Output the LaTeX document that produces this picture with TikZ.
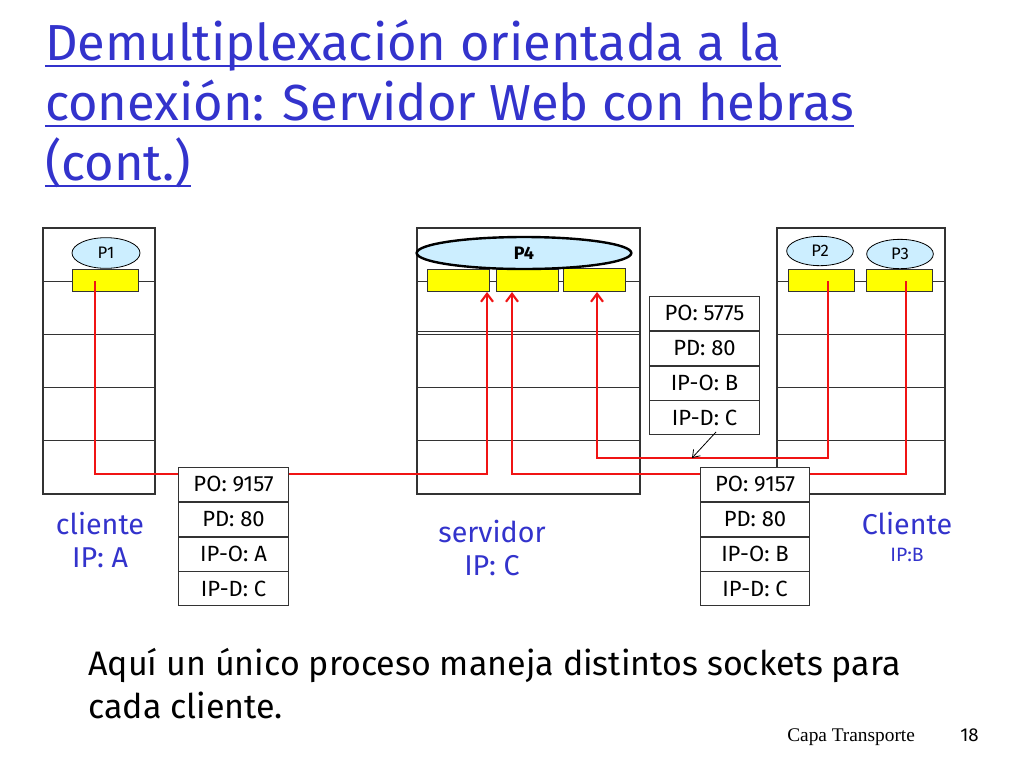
\documentclass[tikz,border=0pt]{standalone}
\usepackage{fontspec}
\setmainfont{Fira Sans}
\newfontfamily\serifx{Liberation Serif}
\usetikzlibrary{arrows.meta,calc,shapes.geometric}
\definecolor{tblue}{RGB}{51,51,204}
\definecolor{sock}{RGB}{255,255,0}
\definecolor{proc}{RGB}{204,238,255}
\tikzset{
 host/.style={draw=black!80,line width=0.8pt},
 socket/.style={draw=black!80,fill=sock,line width=0.6pt},
 procx/.style={draw=black,fill=proc,ellipse,line width=0.6pt,font=\fontsize{12.5}{12.5}\selectfont,inner sep=0pt},
 pktrow/.style={draw=black!80,fill=white,minimum width=82pt,minimum height=25.5pt,line width=0.6pt,font=\fontsize{16.5}{16.5}\selectfont,inner sep=0pt},
 red/.style={draw={rgb,255:red,240;green,20;blue,20},line width=1.6pt},
 lab/.style={text=tblue,font=\fontsize{21.5}{25}\selectfont,align=center},
}
\begin{document}
\begin{tikzpicture}[x=0.75pt,y=-0.75pt]
\useasboundingbox (0,0) rectangle (1024,768);
% title
\foreach \t [count=\i] in {Demultiplexación orientada a la,conexión: Servidor Web con hebras,(cont.)}{
 \node[anchor=base west,text=tblue,font=\fontsize{38}{38}\selectfont,inner sep=0pt,outer sep=0pt] (title\i) at (45,{60*\i}) {\t};
 \draw[tblue,line width=1.5pt] ($(title\i.base west)+(0,6)$) -- ($(title\i.base east)+(0,6)$);
}
% hosts
\foreach \n/\xa/\xb in {A/43/155,S/417/640,B/777/945}{
 \draw[host] (\xa,228) rectangle (\xb,494);
 \foreach \yy in {281,334,387,440} \draw[host,line width=0.6pt] (\xa,\yy) -- (\xb,\yy);
}
\draw[host,line width=0.6pt] (417,331) -- (640,331);
% sockets
\node[socket,minimum width=50pt,minimum height=16.5pt,inner sep=0pt] (sA) at (105.5,280) {};
\node[socket,minimum width=47pt,minimum height=17pt,inner sep=0pt] (s1) at (458.5,280.5) {};
\node[socket,minimum width=47pt,minimum height=17pt,inner sep=0pt] (s2) at (527.5,280.5) {};
\node[socket,minimum width=47pt,minimum height=17pt,inner sep=0pt] (s3) at (594.5,280) {};
\node[socket,minimum width=49.5pt,minimum height=16.5pt,inner sep=0pt] (sB1) at (821,280) {};
\node[socket,minimum width=49.5pt,minimum height=16.5pt,inner sep=0pt] (sB2) at (899,280) {};
% processes
\node[procx,minimum width=51pt,minimum height=23pt] (P1) at (106,253) {P1};
\node[procx,minimum width=161pt,minimum height=24pt,line width=1.8pt,font=\fontsize{13.5}{13.5}\selectfont\bfseries] (P4) at (524,253) {P4};
\node[procx,minimum width=50pt,minimum height=22pt] (P2) at (820,251) {P2};
\node[procx,minimum width=50pt,minimum height=22pt] (P3) at (900,254) {P3};
% red paths
\coordinate (a0) at (95,281);
\draw[red,-{Straight Barb[length=6pt,width=9pt]}] (a0) |- (487,474) -- (487,292);
\coordinate (b0) at (906,281);
\draw[red,-{Straight Barb[length=6pt,width=9pt]}] (b0) |- (512,474) -- (512,292);
\coordinate (c0) at (828,281);
\draw[red,-{Straight Barb[length=6pt,width=9pt]}] (c0) |- (597,458) -- (597,292);
% packets
\foreach \nm/\cx/\yt/\o/\io in {pA/233.5/467/9157/A,pB/755/467/9157/B,pM/704.5/296/5775/B}{
 \node[pktrow,anchor=north] (\nm1) at (\cx,\yt) {PO: \o};
 \node[pktrow,anchor=north] (\nm2) at (\nm1.south) {PD: 80};
 \node[pktrow,anchor=north] (\nm3) at (\nm2.south) {IP-O: \io};
 \node[pktrow,anchor=north] (\nm4) at (\nm3.south) {IP-D: C};
}
\coordinate (mt) at (692,458);
\draw[-{Straight Barb[length=5pt,width=7pt]},line width=0.6pt] (716,432) -- (mt);
% labels
\node[lab] (lA) at (100,540) {cliente\\IP: A};
\node[lab] (lS) at (492,548) {servidor\\IP: C};
\node[lab] (lB) at (907,523) {Cliente};
\node[text=tblue,font=\fontsize{14.5}{14.5}\selectfont] (lB2) at (907,555) {IP:B};
% bottom
\node[anchor=north west,font=\fontsize{25.5}{32}\selectfont,align=left,inner sep=0pt] (txt) at (88,648) {Aquí un único proceso maneja distintos sockets para\\cada cliente.};
\node[anchor=base west,font=\serifx\fontsize{14.5}{14.5}\selectfont,inner sep=0pt] (cap) at (787,741) {Capa Transporte};
\node[anchor=base west,font=\fontsize{14}{14}\selectfont,inner sep=0pt] (num) at (960,741) {18};
\end{tikzpicture}
\end{document}
